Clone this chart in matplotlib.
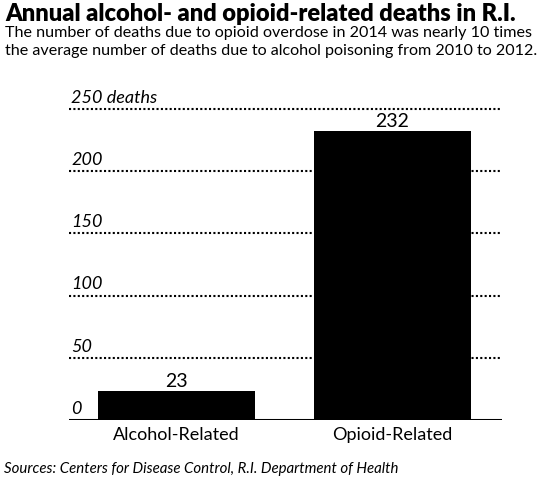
import matplotlib
matplotlib.use('Agg')
import matplotlib.pyplot as plt
import matplotlib.transforms as mtransforms

categories = ["Alcohol-Related", "Opioid-Related"]
deaths = [23, 232]
grid_values = [50, 100, 150, 200, 250]
grid_labels = ["50", "100", "150", "200", "250 deaths"]

title = "Annual alcohol- and opioid-related deaths in R.I."
subtitle_lines = ["The number of deaths due to opioid overdose in 2014 was nearly 10 times",
                  "the average number of deaths due to alcohol poisoning from 2010 to 2012."]
source = "Sources: Centers for Disease Control, R.I. Department of Health"

plt.rcParams['font.family'] = ['Lato', 'DejaVu Sans']

fig = plt.figure(figsize=(5.58, 4.8), dpi=100)
ax = fig.add_axes([69 / 558, 1 - 420 / 480, 433 / 558, 260 * 1.244 / 480])

x = list(range(len(categories)))
ax.bar(x, deaths, width=0.727, color="black", zorder=3)
ax.set_xlim(-0.498, 1.507)
ax.set_ylim(0, 260)

for v in grid_values:
    ax.axhline(v, color="black", lw=1.5, ls=(0, (1, 1.1)), zorder=1)
ax.axhline(0, color="black", lw=2.2, zorder=4)

trans = mtransforms.blended_transform_factory(ax.transAxes, ax.transData)
for v, lab in zip([0] + grid_values, ["0"] + grid_labels):
    ax.text(0.005, v + 2.5, lab, transform=trans, ha="left", va="bottom",
            fontsize=13, style="italic")

for xi, d in zip(x, deaths):
    ax.text(xi, d + 1.5, str(d), ha="center", va="bottom", fontsize=14)

ax.set_xticks(x)
ax.set_xticklabels(categories, fontsize=13)
ax.tick_params(axis="x", length=0, pad=5)
ax.set_yticks([])
for s in ax.spines.values():
    s.set_visible(False)

fig.text(5 / 558, 1 - 21 / 480, title, fontsize=17.0, fontweight="heavy", va="baseline")
for i, line in enumerate(subtitle_lines):
    fig.text(5 / 558, 1 - (37 + 18 * i) / 480, line, fontsize=11.6, va="baseline")
fig.text(4 / 558, 1 - 473 / 480, source, fontsize=10.8, style="italic", va="baseline")

fig.savefig("out.png", dpi=100)
